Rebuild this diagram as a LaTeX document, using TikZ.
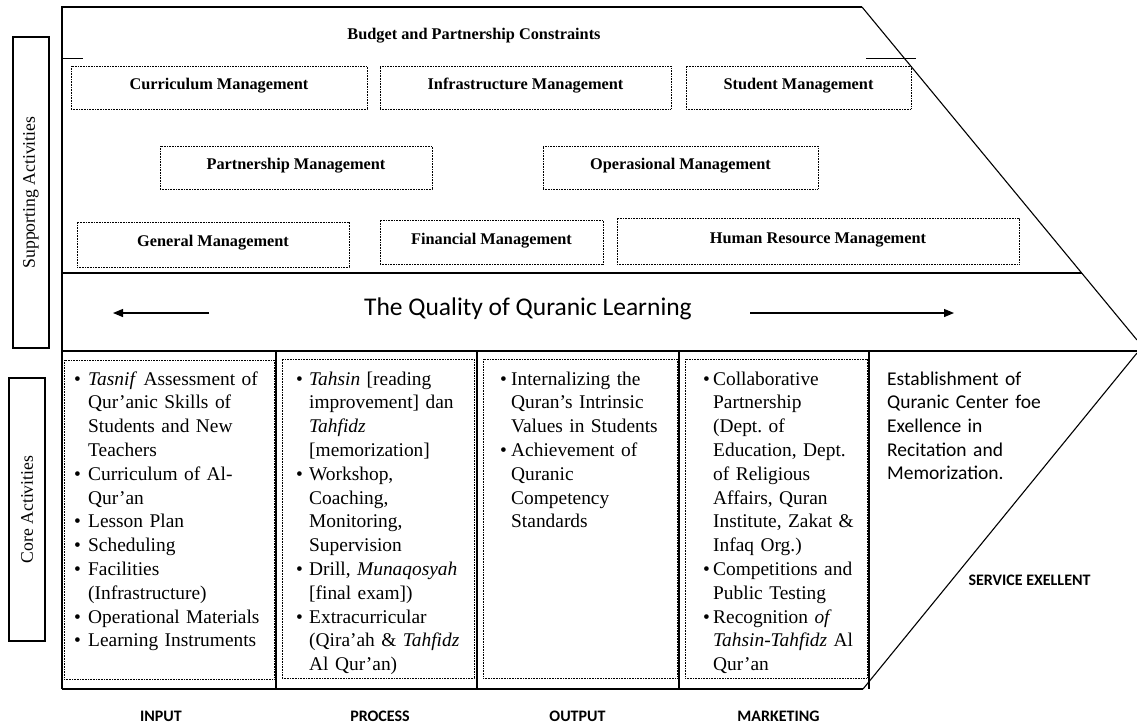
\documentclass[tikz,border=0pt]{standalone}
\usepackage{fontspec}
\setmainfont{Liberation Serif}
\newfontfamily\calib{Carlito}
\usetikzlibrary{arrows.meta}
\newlength\hw
\newcommand\itm{\par\noindent\hangindent=\hw\hangafter=1\makebox[\hw][l]{\textbullet}}
\begin{document}
\begin{tikzpicture}[x=1pt,y=-1pt,
 frame/.style={line width=1.4pt},
 diag/.style={line width=1.1pt},
 dbox/.style={draw, line width=0.7pt, dash pattern=on 0.8pt off 0.8pt, inner sep=0pt,
   font=\fontsize{16.3}{18}\selectfont\bfseries, text height=11pt, text depth=7pt},
 dcol/.style={draw, line width=0.7pt, dash pattern=on 0.8pt off 0.8pt, inner sep=0pt},
 sidebox/.style={draw, line width=1.2pt, rotate=90, inner sep=0pt, minimum height=36pt,
   font=\fontsize{17.7}{20}\selectfont},
 coltext/.style={anchor=base west, inner sep=0pt, text width=260pt,
   font=\fontsize{19.4}{23.8}\selectfont\frenchspacing},
 collabel/.style={anchor=base, inner sep=0pt, font=\calib\fontsize{16}{18}\selectfont\bfseries},
 arr/.style={line width=1.2pt, -{Triangle[length=10pt,width=8pt]}}
]
\useasboundingbox (0,0) rectangle (1137,724);

% frame
\draw[frame] (62,689) -- (62,7) -- (862,7);
\draw[diag] (862,7) -- (1137,340);
\draw[frame] (62,273) -- (1082,273);
\draw[frame] (62,351) -- (1137,351);
\draw[diag] (1137,353) -- (863,689);
\draw[frame] (863,689) -- (62,689);
\draw[line width=1pt] (62,58) -- (83,58);
\draw[line width=1pt] (866,58) -- (916,58);
\foreach \x in {276,477,679,869} \draw[line width=1.2pt] (\x,351) -- (\x,689);

% side boxes
\node[sidebox, minimum width=311pt] (sup) at (31,192.5) {Supporting Activities};
\node[sidebox, minimum width=263pt] (core) at (27,509.5) {Core Activities};

% budget
\node[anchor=base, inner sep=0pt, font=\fontsize{16.3}{18}\selectfont\bfseries] (bud) at (474,39) {Budget and Partnership Constraints};

% supporting boxes
\node[dbox, minimum width=296pt, minimum height=43pt] (cur) at (219,87.5) {Curriculum Management};
\node[dbox, minimum width=291pt, minimum height=43pt] (inf) at (525.5,87.5) {Infrastructure Management};
\node[dbox, minimum width=225pt, minimum height=43pt] (stu) at (798.5,87.5) {Student Management};
\node[dbox, minimum width=272pt, minimum height=43pt] (par) at (296,167.5) {Partnership Management};
\node[dbox, minimum width=275pt, minimum height=43pt] (ope) at (680.5,167.5) {Operasional Management};
\node[dbox, minimum width=272pt, minimum height=45pt] (gen) at (213,244.5) {General Management};
\node[dbox, minimum width=223pt, minimum height=44pt] (fin) at (491.5,242) {Financial Management};
\node[dbox, minimum width=402pt, minimum height=46pt] (hrm) at (818,241) {Human Resource Management};

% quality band
\node[anchor=base, inner sep=0pt, font=\calib\fontsize{25.5}{28}\selectfont] (qual) at (528,315) {The Quality of Quranic Learning};
\coordinate (la1) at (209,313);
\coordinate (la2) at (113,313);
\coordinate (ra1) at (750,313);
\coordinate (ra2) at (954,313);
\draw[arr] (la1) -- (la2);
\draw[arr] (ra1) -- (ra2);

% core dotted boxes
\node[dcol, minimum width=210pt, minimum height=319pt] (bin) at (169,519.5) {};
\node[dcol, minimum width=192pt, minimum height=319pt] (bpr) at (378,518.5) {};
\node[dcol, minimum width=194pt, minimum height=319pt] (bou) at (580,518.5) {};
\node[dcol, minimum width=182pt, minimum height=319pt] (bma) at (776,518.5) {};

% core texts
\node[coltext] (tin) at (74,361.2) {\setlength\hw{14pt}%
\itm \textit{Tasnif} Assessment of\newline Qur’anic Skills of\newline Students and New\newline Teachers
\itm Curriculum of Al-\newline Qur’an
\itm Lesson Plan
\itm Scheduling
\itm Facilities\newline (Infrastructure)
\itm Operational Materials
\itm Learning Instruments\par};

\node[coltext] (tpr) at (296,361.2) {\setlength\hw{13pt}%
\itm \textit{Tahsin} [reading\newline improvement] dan\newline \textit{Tahfidz}\newline [memorization]
\itm Workshop,\newline Coaching,\newline Monitoring,\newline Supervision
\itm Drill, \textit{Munaqosyah}\newline [final exam])
\itm Extracurricular\newline (Qira’ah \& \textit{Tahfidz}\newline Al Qur’an)\par};

\node[coltext] (tou) at (500,361.2) {\setlength\hw{11pt}%
\itm Internalizing the\newline Quran’s Intrinsic\newline Values in Students
\itm Achievement of\newline Quranic\newline Competency\newline Standards\par};

\node[coltext] (tma) at (703,361.2) {\setlength\hw{10pt}%
\itm Collaborative\newline Partnership\newline (Dept. of\newline Education, Dept.\newline of Religious\newline Affairs, Quran\newline Institute, Zakat \&\newline Infaq Org.)
\itm Competitions and\newline Public Testing
\itm Recognition \textit{of}\newline \textit{Tahsin-Tahfidz} Al\newline Qur’an\par};

% right side
\node[anchor=base west, inner sep=0pt, text width=200pt, align=left,
  font=\calib\fontsize{19.5}{23.7}\selectfont] (est) at (887,385)
  {Establishment of\\ Quranic Center foe\\ Exellence in\\ Recitation and\\ Memorization.};
\node[collabel] (serv) at (1029.5,585) {SERVICE EXELLENT};

% column labels
\node[collabel] (lin) at (161,721) {INPUT};
\node[collabel] (lpr) at (380,721) {PROCESS};
\node[collabel] (lou) at (577.5,721) {OUTPUT};
\node[collabel] (lma) at (778.5,721) {MARKETING};
\end{tikzpicture}
\end{document}
